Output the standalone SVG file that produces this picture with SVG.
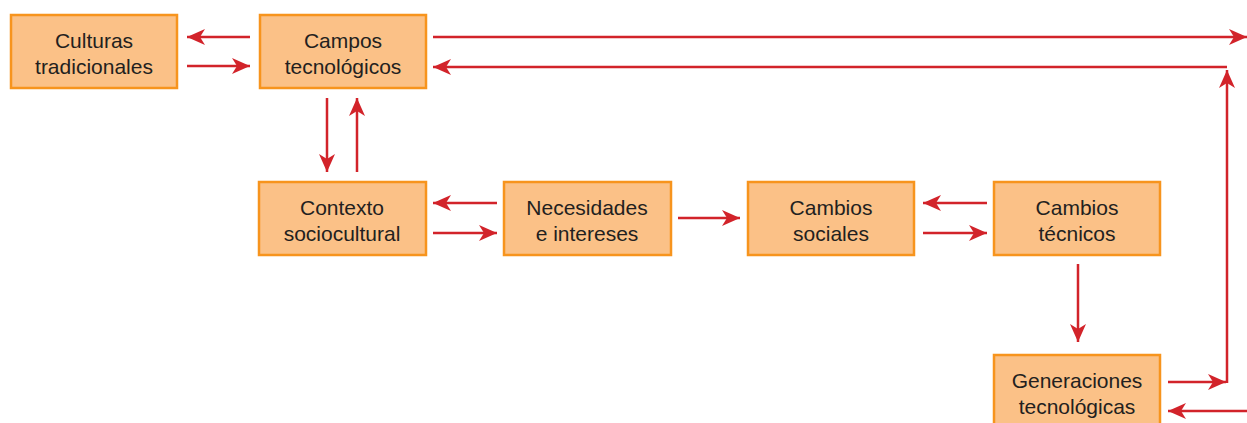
<svg xmlns="http://www.w3.org/2000/svg" width="1247" height="423" viewBox="0 0 1247 423">
<style>
.box{fill:#fbc187;stroke:#f7941d;stroke-width:2.5}
.lbl{font-family:"Liberation Sans",Arial,sans-serif;font-size:21px;fill:#231f20;text-anchor:middle}
.arr{fill:none;stroke:#d2232a;stroke-width:2.5;marker-end:url(#ah)}
</style>
<defs>
<marker id="ah" markerUnits="userSpaceOnUse" markerWidth="19" markerHeight="16" refX="18" refY="8" orient="auto">
<path d="M0,0 L18,8 L0,16 L5,8 z" fill="#d2232a"/>
</marker>
</defs>
<rect width="1247" height="423" fill="#ffffff"/>
<g id="culturas"><rect class="box" x="11" y="15" width="166" height="73"/><text class="lbl" x="94" y="48">Culturas</text><text class="lbl" x="94" y="74">tradicionales</text></g>
<g id="campos"><rect class="box" x="260" y="15" width="166" height="73"/><text class="lbl" x="343" y="48">Campos</text><text class="lbl" x="343" y="74">tecnológicos</text></g>
<g id="contexto"><rect class="box" x="259" y="182" width="167" height="73"/><text class="lbl" x="342" y="215">Contexto</text><text class="lbl" x="342" y="241">sociocultural</text></g>
<g id="necesidades"><rect class="box" x="504" y="182" width="167" height="73"/><text class="lbl" x="587" y="215">Necesidades</text><text class="lbl" x="587" y="241">e intereses</text></g>
<g id="cambios-sociales"><rect class="box" x="748" y="182" width="166" height="73"/><text class="lbl" x="831" y="215">Cambios</text><text class="lbl" x="831" y="241">sociales</text></g>
<g id="cambios-tecnicos"><rect class="box" x="994" y="182" width="166" height="73"/><text class="lbl" x="1077" y="215">Cambios</text><text class="lbl" x="1077" y="241">técnicos</text></g>
<g id="generaciones"><rect class="box" x="994" y="355" width="166" height="80"/><text class="lbl" x="1077" y="388">Generaciones</text><text class="lbl" x="1077" y="414">tecnológicas</text></g>
<g id="connectors">
<path class="arr" d="M250,37 L187,37"/>
<path class="arr" d="M187,66 L250,66"/>
<path class="arr" d="M433,37 L1247,37"/>
<path class="arr" d="M1227,67 L433,67"/>
<path class="arr" d="M327,98 L327,172"/>
<path class="arr" d="M357,172 L357,98"/>
<path class="arr" d="M497,203 L433,203"/>
<path class="arr" d="M433,233 L497,233"/>
<path class="arr" d="M678,218 L740,218"/>
<path class="arr" d="M987,203 L923,203"/>
<path class="arr" d="M923,233 L987,233"/>
<path class="arr" d="M1078,264 L1078,342"/>
<path class="arr" d="M1168,382 L1226,382"/>
<path class="arr" d="M1227,383 L1227,70"/>
<path class="arr" d="M1247,411 L1168,411"/>
</g>
</svg>
